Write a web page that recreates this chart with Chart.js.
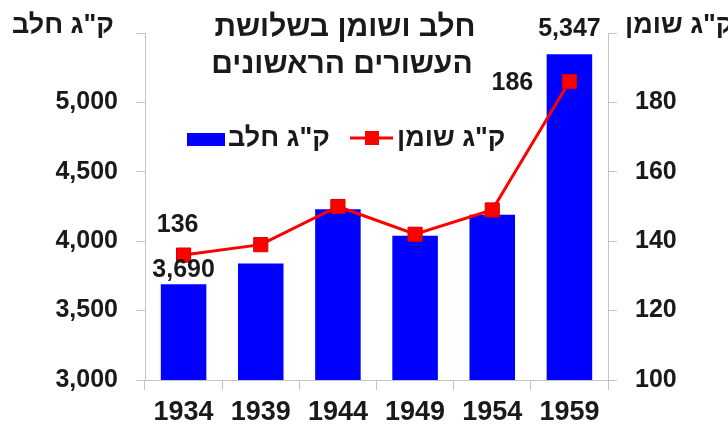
<!DOCTYPE html>
<html lang="he">
<head>
<meta charset="utf-8">
<title>חלב ושומן בשלושת העשורים הראשונים</title>
<script src="https://cdn.jsdelivr.net/npm/chart.js@4.4.1/dist/chart.umd.min.js"></script>
<style>
  html, body { margin: 0; padding: 0; background: #fff; }
  #wrap { width: 728px; height: 431px; position: relative; }
</style>
</head>
<body>
<div id="wrap"><canvas id="milkChart"></canvas></div>
<script>
// data
const years = ["1934", "1939", "1944", "1949", "1954", "1959"];
const milkKg = [3690, 3840, 4230, 4040, 4190, 5347];
const fatKg = [136, 139, 150, 142, 149, 186];
const milkRange = [3000, 5500, 500];   // min, max, step
const fatRange = [100, 200, 20];
const milkLabel = 'ק"ג חלב';
const fatLabel = 'ק"ג שומן';
const titleLines = ["חלב ושומן בשלושת", "העשורים הראשונים"];

const FONT = "'Liberation Sans', Arial, sans-serif";
const INK = "#1a1a1a";
const AXIS = "#c4c4c4";

// Title, axis titles, legend and value labels
const overlay = {
  id: "overlay",
  afterDatasetsDraw(chart) {
    const ctx = chart.ctx;
    ctx.save();
    ctx.fillStyle = INK;
    ctx.textAlign = "center";
    ctx.textBaseline = "middle";

    ctx.font = "bold 30px " + FONT;
    ctx.fillText(titleLines[0], 345, 28);
    ctx.fillText(titleLines[1], 342, 65);

    ctx.font = "bold 27px " + FONT;
    ctx.fillText(milkLabel, 63, 26);
    ctx.textAlign = "left";
    ctx.fillText(fatLabel, 625, 26);
    ctx.textAlign = "center";

    // value labels (first and last point only)
    ctx.font = "bold 25px " + FONT;
    const bars = chart.getDatasetMeta(0).data;
    const pts = chart.getDatasetMeta(1).data;
    ctx.fillText(milkKg[0].toLocaleString("en-US"), bars[0].x, bars[0].y - 14);
    ctx.fillText(milkKg[5].toLocaleString("en-US"), bars[5].x, bars[5].y - 25);
    ctx.fillText(String(fatKg[0]), pts[0].x - 6, pts[0].y - 30);
    ctx.fillText(String(fatKg[5]), pts[5].x - 57, pts[5].y + 2);

    // legend
    ctx.fillStyle = "#0000ff";
    ctx.fillRect(187, 133, 38, 13);
    ctx.fillStyle = INK;
    ctx.font = "bold 27px " + FONT;
    ctx.textAlign = "left";
    ctx.fillText(milkLabel, 228, 139);
    ctx.strokeStyle = "#ff0000";
    ctx.lineWidth = 3;
    ctx.beginPath();
    ctx.moveTo(350, 138);
    ctx.lineTo(393, 138);
    ctx.stroke();
    ctx.fillStyle = "#ff0000";
    ctx.fillRect(365, 131, 14, 14);
    ctx.fillStyle = INK;
    ctx.fillText(fatLabel, 397, 139);
    ctx.restore();
  }
};

const chart = new Chart(document.getElementById("milkChart"), {
  type: "bar",
  data: {
    labels: years,
    datasets: [
      {
        type: "bar",
        label: milkLabel,
        data: milkKg,
        yAxisID: "y",
        backgroundColor: "#0000ff",
        borderWidth: 0,
        barPercentage: 0.59,
        categoryPercentage: 1,
        order: 2
      },
      {
        type: "line",
        label: fatLabel,
        data: fatKg,
        yAxisID: "y1",
        borderColor: "#ff0000",
        borderWidth: 3,
        pointStyle: "rect",
        pointRadius: 10,
        pointBackgroundColor: "#ff0000",
        pointBorderColor: "#d40000",
        pointBorderWidth: 1,
        tension: 0,
        order: 1
      }
    ]
  },
  options: {
    responsive: true,
    maintainAspectRatio: false,
    animation: false,
    layout: { padding: { top: 12, left: 0, right: 0, bottom: 0 } },
    plugins: {
      legend: { display: false },
      tooltip: { enabled: false }
    },
    scales: {
      x: {
        grid: { display: true, drawOnChartArea: false, offset: true, color: AXIS, tickLength: 10 },
        border: { color: AXIS },
        ticks: { color: INK, font: { family: FONT, size: 27, weight: "bold" }, padding: 6 },
        afterFit: s => { s.height = 51; }
      },
      y: {
        position: "left",
        min: milkRange[0],
        max: milkRange[1],
        grid: { drawOnChartArea: false, color: AXIS, tickLength: 9 },
        border: { color: AXIS },
        ticks: {
          stepSize: milkRange[2],
          color: INK,
          padding: 18,
          font: { family: FONT, size: 25, weight: "bold" },
          callback: v => v === milkRange[1] ? "" : v.toLocaleString("en-US")
        },
        afterFit: s => { s.width = 145; }
      },
      y1: {
        position: "right",
        min: fatRange[0],
        max: fatRange[1],
        grid: { drawOnChartArea: false, color: AXIS, tickLength: 9 },
        border: { color: AXIS },
        ticks: {
          stepSize: fatRange[2],
          color: INK,
          padding: 18,
          font: { family: FONT, size: 25, weight: "bold" },
          callback: v => v === fatRange[1] ? "" : v
        },
        afterFit: s => { s.width = 120; }
      }
    }
  },
  plugins: [overlay]
});
</script>
</body>
</html>
